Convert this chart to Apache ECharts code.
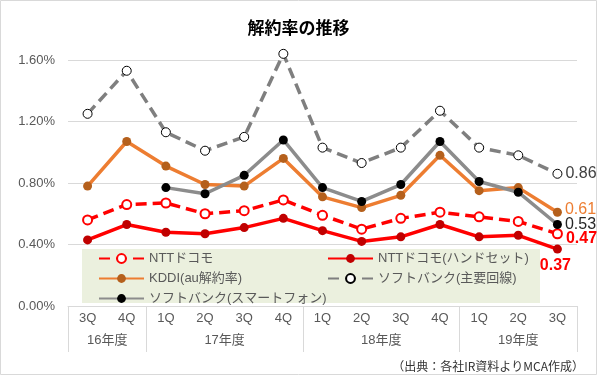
<!DOCTYPE html>
<html>
<head>
<meta charset="utf-8">
<script src="https://cdn.jsdelivr.net/npm/echarts@6/dist/echarts.min.js"></script>
<style>
  html, body { margin: 0; padding: 0; background: #fff; }
  #chart { width: 597px; height: 375px; }
</style>
</head>
<body>
<div id="chart"></div>
<script>
const quarters = ['3Q', '4Q', '1Q', '2Q', '3Q', '4Q', '1Q', '2Q', '3Q', '4Q', '1Q', '2Q', '3Q']
// half-quarter slots for the fiscal-year row: label at group centre, separator at group edge
const yearSlots = ['', '', '16年度', '', '', '', '', '', '17年度', '', '', '', '', '', '', '',
  '18年度', '', '', '', '', '', '', '19年度', '', '', '']
const yearEdges = [0, 4, 12, 20, 26]

const nttDocomo = [0.56, 0.66, 0.67, 0.60, 0.62, 0.69, 0.59, 0.50, 0.57, 0.61, 0.58, 0.55, 0.47]
const nttHandset = [0.43, 0.53, 0.48, 0.47, 0.51, 0.57, 0.49, 0.42, 0.45, 0.53, 0.45, 0.46, 0.37]
const kddi = [0.78, 1.07, 0.91, 0.79, 0.78, 0.96, 0.71, 0.64, 0.72, 0.98, 0.75, 0.77, 0.61]
const sbMain = [1.25, 1.53, 1.13, 1.01, 1.10, 1.64, 1.03, 0.93, 1.03, 1.27, 1.03, 0.98, 0.86]
const sbSmart = [null, null, 0.77, 0.73, 0.85, 1.08, 0.77, 0.68, 0.79, 1.07, 0.81, 0.74, 0.53]

const FONT = 'Liberation Sans, Noto Sans CJK JP'
const last = quarters.length - 1

function endLabel(color, opts) {
  return Object.assign({
    show: true,
    position: 'right',
    distance: 3,
    fontSize: 16,
    fontFamily: FONT,
    color: color,
    formatter: p => (p.dataIndex === last ? p.value.toFixed(2) : '')
  }, opts)
}

const chart = echarts.init(document.getElementById('chart'))
chart.setOption({
  animation: false,
  textStyle: { fontFamily: FONT },
  title: [
    {
      text: '解約率の推移',
      left: 'center',
      top: 14,
      textStyle: { fontSize: 17, fontWeight: 'bold', color: '#000', fontFamily: 'Noto Sans CJK JP' }
    },
    {
      text: '（出典：各社IR資料よりMCA作成）',
      right: 8,
      top: 355,
      textStyle: { fontSize: 12, fontWeight: 'normal', color: '#333', fontFamily: 'Noto Sans CJK JP' }
    }
  ],
  graphic: [
    {
      type: 'rect',
      shape: { x: 0.5, y: 0.5, width: 596, height: 374 },
      style: { fill: 'none', stroke: '#d9d9d9', lineWidth: 1 },
      silent: true
    },
    {
      type: 'rect',
      z: 0,
      shape: { x: 82, y: 249, width: 458, height: 54 },
      style: { fill: '#ebf0de' },
      silent: true
    }
  ],
  legend: [
    {
      orient: 'vertical',
      left: 98,
      top: 252,
      padding: 0,
      itemWidth: 45,
      itemHeight: 11,
      itemGap: 7,
      textStyle: { fontSize: 13, color: '#595959', fontFamily: FONT },
      data: ['NTTドコモ', 'KDDI(au解約率)', 'ソフトバンク(スマートフォン)']
    },
    {
      orient: 'vertical',
      left: 327,
      top: 252,
      padding: 0,
      itemWidth: 45,
      itemHeight: 11,
      itemGap: 7,
      textStyle: { fontSize: 13, color: '#595959', fontFamily: FONT },
      data: ['NTTドコモ(ハンドセット)', 'ソフトバンク(主要回線)']
    }
  ],
  grid: { left: 68, right: 20, top: 60, bottom: 69 },
  xAxis: [
    {
      type: 'category',
      data: quarters,
      axisLine: { lineStyle: { color: '#d9d9d9' } },
      axisTick: { show: false },
      axisLabel: { color: '#595959', fontSize: 13, margin: 6 }
    },
    {
      type: 'category',
      data: yearSlots,
      boundaryGap: false,
      position: 'bottom',
      axisLine: { show: false },
      axisTick: {
        show: true,
        length: 46,
        interval: i => yearEdges.includes(i),
        lineStyle: { color: '#d9d9d9' }
      },
      axisLabel: {
        color: '#595959',
        fontSize: 13,
        margin: 28,
        interval: (i, v) => v !== ''
      }
    }
  ],
  yAxis: {
    type: 'value',
    min: 0,
    max: 1.6,
    interval: 0.4,
    axisLine: { show: false },
    axisTick: { show: false },
    splitLine: { lineStyle: { color: '#d9d9d9' } },
    axisLabel: {
      color: '#595959',
      fontSize: 13,
      margin: 13,
      formatter: v => v.toFixed(2) + '%'
    }
  },
  series: [
    {
      name: 'NTTドコモ',
      type: 'line',
      clip: false,
      data: nttDocomo,
      symbol: 'circle',
      symbolSize: 9,
      lineStyle: { color: '#ff0000', width: 3.5, type: [11, 6] },
      itemStyle: { color: '#fff', borderColor: '#ff0000', borderWidth: 2 },
      label: endLabel('#ff0000', { fontWeight: 'bold', offset: [0, 5] })
    },
    {
      name: 'NTTドコモ(ハンドセット)',
      type: 'line',
      clip: false,
      data: nttHandset,
      symbol: 'circle',
      symbolSize: 9,
      lineStyle: { color: '#ff0000', width: 3.5 },
      itemStyle: { color: '#c00000', borderColor: '#c00000', borderWidth: 0 },
      label: endLabel('#ff0000', { fontWeight: 'bold', position: 'bottom', distance: 4, offset: [-2, 0] })
    },
    {
      name: 'KDDI(au解約率)',
      type: 'line',
      clip: false,
      data: kddi,
      symbol: 'circle',
      symbolSize: 9,
      lineStyle: { color: '#ed7d31', width: 3.5 },
      itemStyle: { color: '#b5601c', borderWidth: 0 },
      label: endLabel('#ed7d31', { offset: [0, -3] })
    },
    {
      name: 'ソフトバンク(主要回線)',
      type: 'line',
      clip: false,
      data: sbMain,
      symbol: 'circle',
      symbolSize: 9,
      lineStyle: { color: '#7f7f7f', width: 3.5, type: [11, 6] },
      itemStyle: { color: '#fff', borderColor: '#000', borderWidth: 1 },
      label: endLabel('#404040')
    },
    {
      name: 'ソフトバンク(スマートフォン)',
      type: 'line',
      clip: false,
      data: sbSmart,
      symbol: 'circle',
      symbolSize: 9,
      connectNulls: false,
      lineStyle: { color: '#8c8c8c', width: 3.5 },
      itemStyle: { color: '#000', borderWidth: 0 },
      label: endLabel('#262626')
    }
  ]
})
</script>
</body>
</html>
